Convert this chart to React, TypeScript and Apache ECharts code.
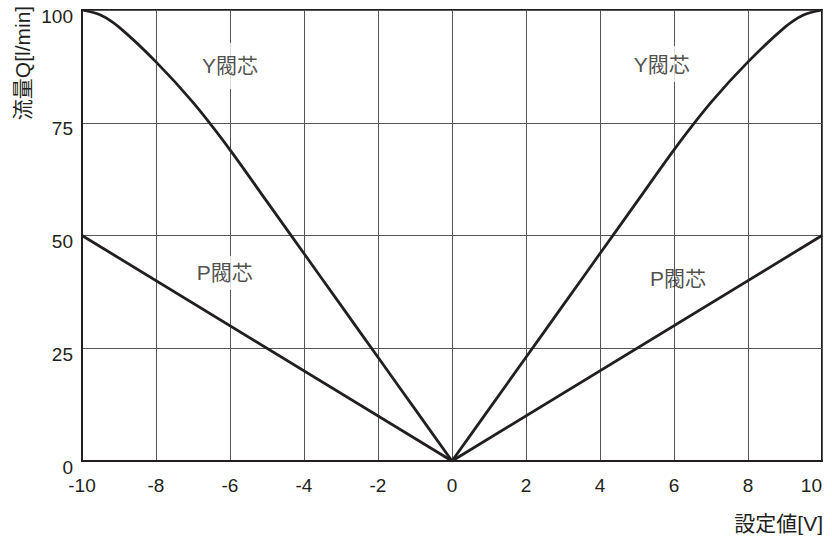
import React, { useEffect, useRef } from "react";
import * as echarts from "echarts";

// Setpoint voltage [V] and flow [l/min]
const yLeftX = [-10, -9.5, -9, -8, -7, -6, -5, -4, -3, -2, -1, 0];
const yLeftQ = [100, 98.9, 96.2, 88.5, 79.5, 69, 57.5, 46, 34.5, 23, 11.5, 0];
const yRightX = [0, 1, 2, 3, 4, 5, 6, 7, 8, 9, 9.5, 10];
const yRightQ = [0, 11.5, 23, 34.5, 46, 57.5, 69, 79.5, 88.5, 96.2, 98.9, 100];
const pX = [-10, 0, 10];
const pQ = [50, 0, 50];

const xTicks = [-10, -8, -6, -4, -2, 0, 2, 4, 6, 8, 10];
const yTicks = [0, 25, 50, 75, 100];

const labelNames = ["Y閥芯", "Y閥芯", "P閥芯", "P閥芯"];
const labelX = [-6, 5.67, -6.14, 6.11];
const labelQ = [87.6, 88, 41.7, 40.4];

const xName = "設定値[V]";
const yName = "流量Q[l/min]";

const FONT = '"Liberation Sans", "Noto Sans CJK JP", Arial, sans-serif';
const INK = "#231f20";

export default function App() {
  const ref = useRef<HTMLDivElement>(null);
  useEffect(() => {
    if (!ref.current) return;
    const chart = echarts.init(ref.current, undefined, { renderer: "svg" });
    const pair = (xs: number[], ys: number[]) => xs.map((x, i) => [x, ys[i]]);
    const labelPads = [
      [13, 5, 12, 5],
      [1, 5, 14, 5],
      [3, 5, 10, 5],
      [0, 0, 0, 0],
    ];
    const labelBg = ["#fff", "#fff", "#fff", "transparent"];
    chart.setOption({
      animation: false,
      backgroundColor: "#fff",
      textStyle: { fontFamily: FONT },
      grid: {
        left: 82,
        top: 10,
        right: 10,
        bottom: 79,
        show: true,
        borderColor: INK,
        borderWidth: 2,
        backgroundColor: "transparent",
      },
      xAxis: {
        type: "value",
        min: xTicks[0],
        max: xTicks[xTicks.length - 1],
        interval: 2,
        axisLine: { show: true, onZero: false, lineStyle: { color: INK, width: 2 } },
        axisTick: { show: false },
        splitLine: { show: true, lineStyle: { color: "#555", width: 1 } },
        axisLabel: {
          fontSize: 19,
          color: INK,
          fontFamily: FONT,
          margin: 15,
          alignMaxLabel: "right",
        },
        name: xName,
        nameLocation: "end",
        nameGap: 1,
        nameTextStyle: {
          fontSize: 21,
          color: INK,
          fontFamily: FONT,
          align: "right",
          verticalAlign: "top",
          padding: [52, 0, 0, 0],
        },
      },
      yAxis: {
        type: "value",
        min: yTicks[0],
        max: yTicks[yTicks.length - 1],
        interval: 25,
        axisLine: { show: true, onZero: false, lineStyle: { color: INK, width: 2 } },
        axisTick: { show: false },
        splitLine: { show: true, lineStyle: { color: "#555", width: 1 } },
        axisLabel: {
          fontSize: 19,
          color: INK,
          fontFamily: FONT,
          margin: 9,
          verticalAlign: "top",
          lineHeight: 12,
        },
      },
      graphic: [
        {
          type: "text",
          x: 22,
          y: 63,
          rotation: Math.PI / 2,
          style: {
            text: yName,
            fontSize: 21,
            fontFamily: FONT,
            fill: INK,
            align: "center",
            verticalAlign: "middle",
          },
        },
      ],
      series: [
        {
          type: "line",
          data: pair(yLeftX, yLeftQ),
          smooth: 0.3,
          showSymbol: false,
          lineStyle: { color: INK, width: 2.8 },
          z: 5,
        },
        {
          type: "line",
          data: pair(yRightX, yRightQ),
          smooth: 0.3,
          showSymbol: false,
          lineStyle: { color: INK, width: 2.8 },
          z: 5,
        },
        {
          type: "line",
          data: pair(pX, pQ),
          showSymbol: false,
          lineStyle: { color: INK, width: 2.8 },
          z: 5,
        },
        {
          type: "scatter",
          symbolSize: 0,
          z: 3,
          data: labelNames.map((n, i) => ({
            name: n,
            value: [labelX[i], labelQ[i]],
            label: {
              show: true,
              position: "inside",
              formatter: n,
              fontSize: 21,
              fontFamily: FONT,
              color: INK,
              backgroundColor: labelBg[i],
              padding: labelPads[i],
            },
          })),
        },
      ],
    });
    return () => chart.dispose();
  }, []);
  return (
    <div
      ref={ref}
      style={{ position: "fixed", left: 0, top: 0, width: 832, height: 540 }}
    />
  );
}
